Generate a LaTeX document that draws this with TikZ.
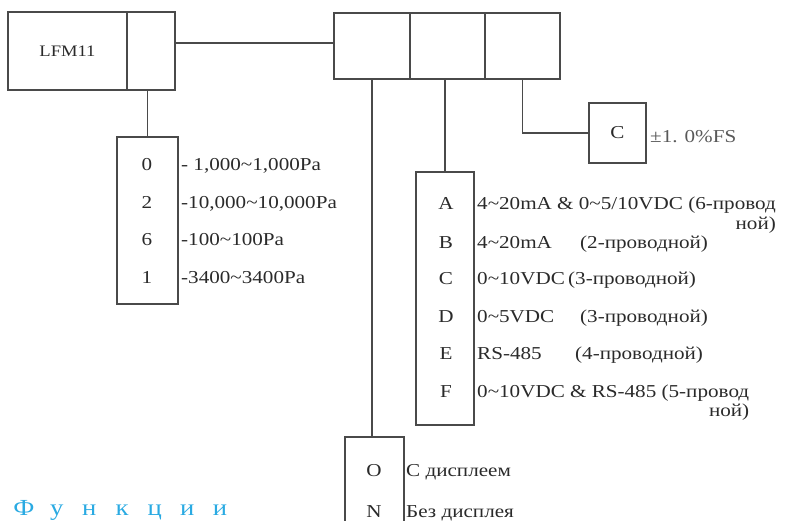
\documentclass[tikz,border=0pt]{standalone}
\usepackage{fontspec}
\setmainfont{Liberation Serif}[FakeStretch=1.16]
\usetikzlibrary{calc}
\definecolor{ln}{HTML}{4A4A4A}
\definecolor{tx}{HTML}{2A2A2A}
\definecolor{cy}{HTML}{2AAAE2}
\begin{document}
\begin{tikzpicture}[x=1pt,y=-1pt,
 box/.style={draw=ln,line width=1.1pt,inner sep=0pt,outer sep=0pt},
 conn/.style={draw=ln,line width=1.1pt},
 lbl/.style={text=tx,inner sep=0pt,anchor=base west,font=\fontsize{18.2}{21}\selectfont},
 key/.style={text=tx,inner sep=0pt,anchor=base,font=\fontsize{18.2}{21}\selectfont},
 cyl/.style={text=cy,inner sep=0pt,anchor=base,font=\fontsize{23}{26}\selectfont}]
\useasboundingbox (0,0) rectangle (786,521);
% top boxes
\node[box,minimum width=119pt,minimum height=78pt,text=tx,font=\fontsize{16}{18}\selectfont] (lfm) at (67.5,51) {LFM11};
\node[box,minimum width=48pt,minimum height=78pt] (lfm2) at (151,51) {};
\node[box,minimum width=76pt,minimum height=66pt] (b1) at (372,46) {};
\node[box,minimum width=75pt,minimum height=66pt] (b2) at (447.5,46) {};
\node[box,minimum width=75pt,minimum height=66pt] (b3) at (522.5,46) {};
% range box
\node[box,minimum width=61pt,minimum height=167pt] (rng) at (147.5,220.5) {};
\node[key] (k0) at (147,171) {0};
\node[key] (k2) at (147,208) {2};
\node[key] (k6) at (147,245) {6};
\node[key] (k1) at (147,283) {1};
\node[lbl] (r0) at (181,171) {- 1,000\textasciitilde1,000Pa};
\node[lbl] (r2) at (181,208) {-10,000\textasciitilde10,000Pa};
\node[lbl] (r6) at (181,245) {-100\textasciitilde100Pa};
\node[lbl] (r1) at (181,283) {-3400\textasciitilde3400Pa};
% output box
\node[box,minimum width=58pt,minimum height=253pt] (outb) at (445,298.5) {};
\node[key] (kA) at (446,210) {A};
\node[key] (kB) at (446,248) {B};
\node[key] (kC) at (446,284) {C};
\node[key] (kD) at (446,322) {D};
\node[key] (kE) at (446,359) {E};
\node[key] (kF) at (446,397) {F};
\node[lbl] (tA) at (477,210) {4\textasciitilde20mA \& 0\textasciitilde5/10VDC (6-провод};
\node[lbl,anchor=north east] (tA2) at ([yshift=-3pt]tA.south east) {ной)};
\node[lbl] (tB) at (477,248) {\makebox[103pt][l]{4\textasciitilde20mA}(2-проводной)};
\node[lbl] (tC) at (477,284) {\makebox[91pt][l]{0\textasciitilde10VDC}(3-проводной)};
\node[lbl] (tD) at (477,322) {\makebox[103pt][l]{0\textasciitilde5VDC}(3-проводной)};
\node[lbl] (tE) at (477,359) {\makebox[98pt][l]{RS-485}(4-проводной)};
\node[lbl] (tF) at (477,397) {0\textasciitilde10VDC \& RS-485 (5-провод};
\node[lbl,anchor=north east] (tF2) at ([yshift=-3pt]tF.south east) {ной)};
% accuracy box
\node[box,minimum width=57pt,minimum height=60pt,text=tx,font=\fontsize{18.2}{21}\selectfont] (cb) at (617.5,133) {C};
\node[lbl,text=black!65] (acc) at (650,143) {±1. 0\%FS};
% display box
\node[box,minimum width=59pt,minimum height=123pt] (disp) at (374.5,498.5) {};
\node[key] (kO) at (374,476) {O};
\node[key] (kN) at (374,517) {N};
\node[lbl] (dO) at (406,476) {С дисплеем};
\node[lbl] (dN) at (406,517) {Без дисплея};
% connectors
\draw[conn] ([yshift=8pt]lfm2.east) -- ([yshift=8pt]lfm2.east -| b1.west);
\draw[conn] (rng.north |- lfm2.south) -- (rng.north);
\draw[conn] (b1.south) -- (b1.south |- disp.north);
\draw[conn] (outb.north |- b2.south) -- (outb.north);
\draw[conn] (b3.south) |- (cb.west);
% caption
\foreach \c/\x [count=\i] in {Ф/24,у/56.7,н/89.3,к/122,ц/154.7,и/187.3,и/220}
  \node[cyl] (f\i) at (\x,515) {\c};
\end{tikzpicture}
\end{document}
